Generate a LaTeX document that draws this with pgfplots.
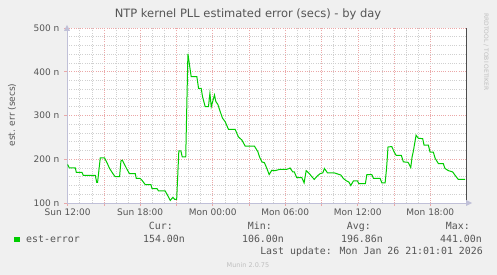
\documentclass[border=0pt]{standalone}
\usepackage{pgfplots}
\pgfplotsset{compat=1.18}
\usepackage{fontspec}
\setmainfont{DejaVu Sans}
\newfontfamily\monofont{DejaVu Sans Mono}
\definecolor{bg}{HTML}{F0F0F0}
\definecolor{txt}{HTML}{555555}
\definecolor{lgreen}{HTML}{00CC00}
\definecolor{majg}{HTML}{EBA8A8}
\definecolor{ming}{HTML}{D0D0D0}
\definecolor{axc}{HTML}{C0C0D8}
\begin{document}
\begin{tikzpicture}
\fill[bg] (0pt,0pt) rectangle (497pt,275pt);
\useasboundingbox (0pt,0pt) rectangle (497pt,275pt);
\begin{axis}[
  at={(67pt,72pt)}, anchor=south west,
  scale only axis, width=399pt, height=175pt,
  xmin=11.95, xmax=44.95, ymin=100, ymax=500,
  axis background/.style={fill=white},
  axis x line*=bottom, axis y line*=left,
  axis line style={axc, line width=0.8pt},
  xtick={12,15,...,42},
  xticklabels={Sun 12:00,,Sun 18:00,,Mon 00:00,,Mon 06:00,,Mon 12:00,,Mon 18:00},
  minor x tick num=2,
  ytick={100,200,300,400,500},
  yticklabels={100 n,200 n,300 n,400 n,500 n},
  minor y tick num=4,
  grid=both,
  major grid style={dash pattern=on 1pt off 1.2pt, majg, line width=0.5pt},
  minor grid style={dash pattern=on 1pt off 1.2pt, ming, line width=0.5pt},
  tick align=outside,
  major tick length=3pt, minor tick length=0pt,
  major tick style={majg, line width=0.6pt},
  tick label style={font=\fontsize{9}{10}\selectfont, text=txt},
  xticklabel style={yshift=1pt},
  yticklabel style={xshift=-1pt},
  clip=false,
]
\addplot[lgreen, line width=1pt] coordinates {
(12.00,188) (12.14,180) (12.64,180) (12.72,170) (13.19,170) (13.30,163)
(14.29,163) (14.41,147) (14.48,147) (14.70,203) (15.06,203) (15.26,192)
(15.47,179) (15.75,167) (15.94,160) (16.30,160) (16.41,196) (16.52,198)
(16.71,188) (16.91,177) (17.12,167) (17.60,167) (17.68,156) (18.01,156)
(18.15,152) (18.42,142) (18.89,142) (18.98,133) (19.39,133) (19.52,127.5)
(20.07,127.5) (20.26,118) (20.49,106) (20.71,113) (20.86,108) (21.02,108)
(21.20,219) (21.37,219) (21.48,205.5) (21.77,205.5) (21.95,441) (22.22,389)
(22.69,389) (22.83,362) (23.05,362) (23.16,343) (23.38,320) (23.65,320)
(23.77,351) (23.88,320) (24.15,347) (24.26,332) (24.43,325) (24.62,309)
(24.81,294) (25.03,286) (25.31,268) (25.86,268) (26.13,251) (26.41,244)
(26.69,230) (27.45,230) (27.74,217) (27.87,205.5) (28.07,194) (28.28,192)
(28.48,179) (28.67,165) (28.89,175) (28.97,174) (29.16,174) (29.57,177)
(30.12,177) (30.26,178) (30.40,180) (30.62,171) (30.75,171) (30.95,158)
(31.37,158) (31.56,146) (31.73,174) (32.00,167) (32.20,160) (32.40,154)
(32.66,162) (32.88,167) (33.11,169) (33.24,179) (33.49,169) (34.04,169)
(34.26,167) (34.60,164) (34.81,156) (35.04,151) (35.26,148) (35.42,140)
(35.64,150.5) (35.97,150.5) (36.08,144.5) (36.63,144.5) (36.75,165) (37.16,165)
(37.30,156) (37.85,156) (37.99,146) (38.26,146) (38.38,179) (38.50,228)
(38.81,229) (39.00,217) (39.17,209) (39.60,209) (39.77,194) (40.16,193)
(40.38,181) (40.49,205) (40.60,219) (40.82,255) (41.01,248) (41.37,247)
(41.48,232) (41.84,232) (41.98,216) (42.25,216) (42.40,202) (42.67,190)
(43.07,190) (43.21,179) (43.49,174) (43.85,171) (44.04,163.5) (44.31,154)
(44.87,154)
};
\draw[black!70, line width=0.6pt] (rel axis cs:1,0) -- (rel axis cs:1,1);
\end{axis}
\fill[axc] (67pt,250pt) -- (64pt,244pt) -- (70pt,244pt) -- cycle;
\fill[axc] (472pt,72pt) -- (466pt,69pt) -- (466pt,75pt) -- cycle;
\node[text=txt, font=\fontsize{11.5}{13}\selectfont] at (248pt,261pt) {NTP kernel PLL estimated error (secs) - by day};
\node[text=txt, rotate=90, font=\fontsize{9}{10}\selectfont] at (12pt,160pt) {est. err (secs)};
\node[text=black!25, rotate=-90, font=\fontsize{6}{7}\selectfont] at (486pt,223pt) {RRDTOOL / TOBI OETIKER};
\fill[lgreen] (14pt,32.5pt) rectangle (19.5pt,38pt);
\begin{scope}[every node/.style={text=txt, font=\monofont\fontsize{9.9}{11}\selectfont, inner sep=0pt}]
\node[anchor=base west] at (26pt,32pt) {est-error};
\node[anchor=base east] at (173pt,45pt) {Cur:};
\node[anchor=base east] at (185pt,32pt) {154.00n};
\node[anchor=base east] at (272pt,45pt) {Min:};
\node[anchor=base east] at (284pt,32pt) {106.00n};
\node[anchor=base east] at (371pt,45pt) {Avg:};
\node[anchor=base east] at (383pt,32pt) {196.86n};
\node[anchor=base east] at (470pt,45pt) {Max:};
\node[anchor=base east] at (482pt,32pt) {441.00n};
\node[anchor=base east] at (483pt,20pt) {Last update: Mon Jan 26 21:01:01 2026};
\end{scope}
\node[text=black!25, font=\fontsize{6.5}{7}\selectfont] at (248pt,10pt) {Munin 2.0.75};
\end{tikzpicture}
\end{document}
